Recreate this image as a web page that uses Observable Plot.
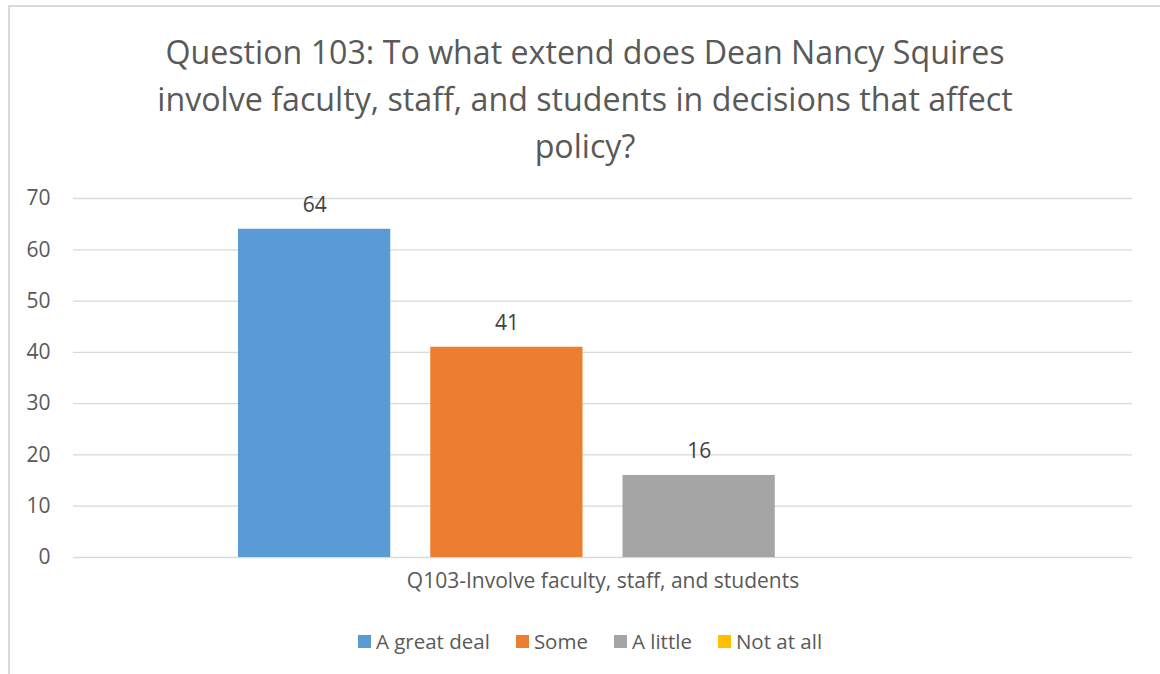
<!DOCTYPE html>
<html><head><meta charset="utf-8">
<script src="https://cdn.jsdelivr.net/npm/d3@7"></script>
<script src="https://cdn.jsdelivr.net/npm/@observablehq/plot@0.6"></script>
<style>
body{margin:0;background:#fff;font-family:"Open Sans",sans-serif;color:#595959}
#wrap{position:relative;width:1160px;height:674px;overflow:hidden;background:#fff}
#frame{position:absolute;left:8px;top:5px;width:1300px;height:800px;border-top:2px solid #d9d9d9;border-left:2px solid #d9d9d9}
#title{position:absolute;left:0;width:1170px;top:28px;text-align:center;font-size:32.2px;line-height:47px;color:#595959}
#chart{position:absolute;left:0;top:180px}
#legend{position:absolute;top:628px;left:0;width:1180px;height:26px;display:flex;justify-content:center;align-items:center;font-size:20.5px;line-height:26px;color:#595959}
.item{display:flex;align-items:center;margin:0 13px}
.sw{width:13px;height:13px;margin-right:5px}
</style></head>
<body>
<div id="wrap">
<div id="frame"></div>
<div id="title">Question 103: To what extend does Dean Nancy Squires<br>involve faculty, staff, and students in decisions that affect<br>policy?</div>
<div id="chart"></div>
<div id="legend"></div>
</div>
<script>
const categories = ["Q103-Involve faculty, staff, and students"];
const series = ["A great deal", "Some", "A little", "Not at all"];
const values = [64, 41, 16, 0];
const colors = ["#5b9bd5", "#ed7d31", "#a5a5a5", "#ffc000"];
const yTicks = [0, 10, 20, 30, 40, 50, 60, 70];

const data = series.map((s, i) => ({category: categories[0], series: s, value: values[i]}));

const chart = Plot.plot({
  width: 1160,
  height: 430,
  marginTop: 18,
  marginBottom: 53,
  marginLeft: 73,
  marginRight: 28,
  style: {fontFamily: "Open Sans, sans-serif", fontSize: "21px", color: "#595959", background: "transparent"},
  x: {domain: series, range: [218, 987], paddingInner: 0.208, paddingOuter: 0.104, round: false, axis: null},
  y: {domain: [0, 70], axis: null},
  color: {domain: series, range: colors},
  marks: [
    Plot.gridY(yTicks, {stroke: "#d9d9d9", strokeOpacity: 1, strokeWidth: 1.3}),
    Plot.axisY(yTicks, {tickSize: 0, tickPadding: 23, fontSize: 21, fill: "#595959", label: null}),
    Plot.barY(data, {x: "series", y: "value", fill: "series"}),
    Plot.text(data.filter(d => d.value > 0), {x: "series", y: "value", text: d => String(d.value), dy: -24, fontSize: 21, fill: "#404040"}),
    Plot.text(categories, {text: d => d, frameAnchor: "bottom", dy: 30, fontSize: 21, fill: "#595959"})
  ]
});
document.getElementById("chart").appendChild(chart);

const legend = document.getElementById("legend");
series.forEach((s, i) => {
  const it = document.createElement("div");
  it.className = "item";
  const sw = document.createElement("div");
  sw.className = "sw";
  sw.style.background = colors[i];
  const tx = document.createElement("span");
  tx.textContent = s;
  it.appendChild(sw); it.appendChild(tx);
  legend.appendChild(it);
});
</script>
</body></html>
